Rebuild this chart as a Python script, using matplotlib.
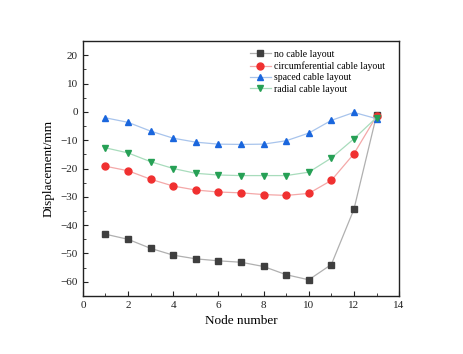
import matplotlib.pyplot as plt
from matplotlib.ticker import MultipleLocator

plt.rcParams['font.family'] = ['Liberation Serif', 'DejaVu Serif']

nodes = [1, 2, 3, 4, 5, 6, 7, 8, 9, 10, 11, 12, 13]
no_cable = [-43.2, -45.0, -48.2, -50.6, -51.9, -52.6, -53.1, -54.6, -57.5, -59.3, -53.9, -34.4, -1.2]
circumferential = [-19.2, -20.8, -23.8, -26.2, -27.6, -28.3, -28.6, -29.2, -29.5, -28.8, -24.2, -14.8, -1.5]
spaced = [-2.1, -3.7, -6.8, -9.3, -10.7, -11.4, -11.5, -11.4, -10.2, -7.5, -3.0, -0.2, -2.4]
radial = [-12.7, -14.5, -17.6, -20.0, -21.7, -22.3, -22.5, -22.5, -22.5, -21.3, -16.3, -9.5, -2.0]

labels = ["no cable layout", "circumferential cable layout",
          "spaced cable layout", "radial cable layout"]

fig = plt.figure(figsize=(4.63, 3.54), dpi=100)
ax = fig.add_axes([0.179, 0.164, 0.683, 0.72])

series = [
    (no_cable, 's', '#3f3f3f', '#b0b0b0'),
    (circumferential, 'o', '#f03030', '#f4a8a8'),
    (spaced, '^', '#1a66dd', '#a8c4ec'),
    (radial, 'v', '#26a055', '#a8dcbc'),
]
for (vals, mk, mc, lc), lab in zip(series, labels):
    ax.plot(nodes, vals, color=lc, lw=0.9, marker=mk, ms=5,
            mfc=mc, mec=mc, label=lab)

ax.set_xlim(0, 14)
ax.set_ylim(-65, 25)
ax.xaxis.set_major_locator(MultipleLocator(2))
ax.xaxis.set_minor_locator(MultipleLocator(1))
ax.yaxis.set_major_locator(MultipleLocator(10))
ax.yaxis.set_minor_locator(MultipleLocator(5))
ax.tick_params(which='both', direction='in', labelsize=8, colors='#222222')
ax.tick_params(which='major', length=3.5)
ax.tick_params(which='minor', length=2)
for s in ax.spines.values():
    s.set_linewidth(1.0)
    s.set_color('#222222')

ax.set_xlabel("Node number", fontsize=9.5)
ax.set_ylabel("Displacement/mm", fontsize=9.5)

ax.legend(loc='upper left', bbox_to_anchor=(0.5, 1.0), frameon=False,
          fontsize=7, handlelength=2.2, labelspacing=0.25, handletextpad=0.3)

fig.savefig("out.png", dpi=100)
